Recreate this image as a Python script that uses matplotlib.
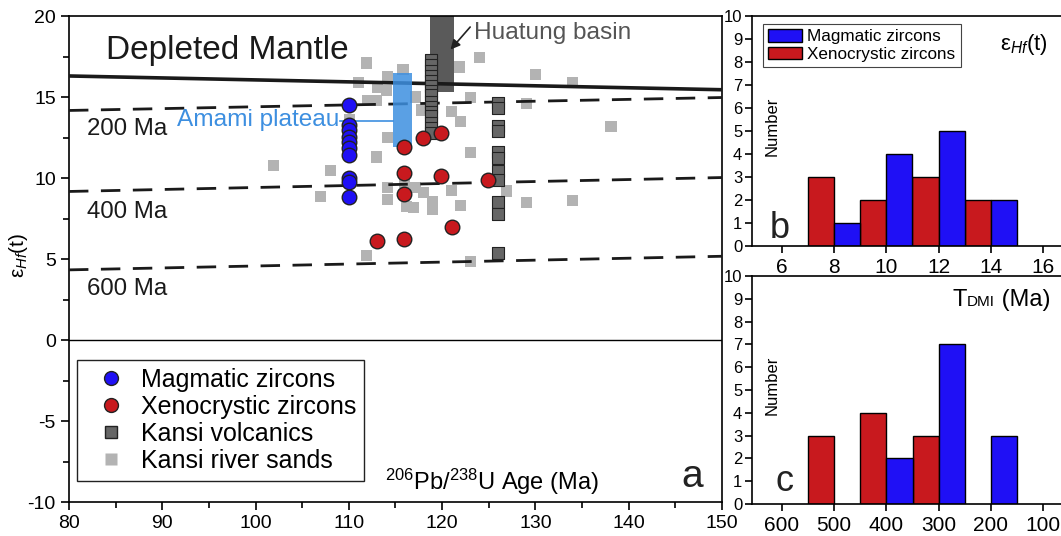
import matplotlib
matplotlib.use("Agg")
import matplotlib.pyplot as plt
from matplotlib.patches import Rectangle, Patch
from matplotlib.lines import Line2D
from matplotlib.offsetbox import TextArea, HPacker, AnchoredOffsetbox

plt.rcParams['font.family'] = ['Liberation Sans', 'DejaVu Sans']
plt.rcParams['mathtext.fontset'] = 'custom'
plt.rcParams['mathtext.rm'] = 'Liberation Sans'
plt.rcParams['mathtext.it'] = 'Liberation Sans:italic'
plt.rcParams['mathtext.bf'] = 'Liberation Sans:bold'
plt.rcParams['axes.unicode_minus'] = False

# ---------------- data ----------------
mag_age = [110, 110, 110, 110, 110, 110, 110, 110, 110, 110]
mag_hf = [14.5, 13.3, 12.95, 12.55, 12.2, 11.85, 11.45, 10.0, 9.75, 8.85]

xen_age = [115.9, 117.9, 119.9, 115.9, 119.9, 124.9, 115.9, 121.1, 115.9, 113.0]
xen_hf = [11.9, 12.5, 12.8, 10.3, 10.15, 9.9, 9.0, 6.95, 6.25, 6.1]

volc_age = [118.8] * 15 + [126.0] * 11
volc_hf = [17.3, 17.0, 16.6, 16.3, 16.0, 15.7, 15.4, 15.1, 14.7, 14.4, 14.1, 13.8, 13.4, 13.1, 12.8,
           14.65, 14.3, 13.2, 12.9, 11.6, 11.25, 10.45, 9.85, 8.5, 7.75, 5.35]

sand_age = [111.9, 111.0, 114.1, 115.8, 113.1, 112.0, 113.0, 114.0, 110.1, 114.1, 113.0, 101.9,
            108.0, 107.0, 114.1, 114.1, 116.2, 111.9, 117.1, 117.8, 121.9, 124.0, 123.0, 121.0,
            122.0, 130.0, 134.0, 129.0, 138.1, 134.0, 123.0, 116.0, 117.1, 118.0, 119.0, 119.0,
            116.9, 121.05, 122.0, 126.9, 129.0, 123.0]
sand_hf = [17.1, 15.9, 16.25, 16.7, 15.6, 14.8, 14.8, 15.4, 13.6, 12.5, 11.3, 10.75,
           10.45, 8.85, 9.4, 8.7, 8.25, 5.2, 15.0, 14.2, 16.85, 17.45, 14.95, 14.1,
           13.5, 16.4, 15.9, 14.6, 13.2, 8.6, 11.6, 9.7, 9.4, 9.1, 8.55, 8.05,
           8.2, 9.25, 8.3, 9.2, 8.5, 4.85]

dm_age = [80, 150]
dm_hf = [16.3, 15.45]
crust_labels = ['200 Ma', '400 Ma', '600 Ma']
crust_hf_start = [14.17, 9.17, 4.33]
crust_hf_end = [14.97, 10.03, 5.17]

amami_age = [114.7, 116.8]
amami_hf = [11.9, 16.5]
huatung_age = [118.7, 121.3]
huatung_hf = [15.3, 20.0]

hf_mag_centers = [8.5, 10.5, 12.5, 14.5]
hf_mag_counts = [1, 4, 5, 2]
hf_xen_centers = [7.5, 9.5, 11.5, 13.5]
hf_xen_counts = [3, 2, 3, 2]

tdm_mag_centers = [375, 275, 175]
tdm_mag_counts = [2, 7, 3]
tdm_xen_centers = [525, 425, 325]
tdm_xen_counts = [3, 4, 3]

BLUE = '#1f10f5'
RED = '#c8191e'
DGREY = '#666666'
LGREY = '#b3b3b3'
AMAMI = '#3d8fe0'
EPS = 'ε$_{Hf}$(t)'

fig = plt.figure(figsize=(10.61, 5.36), dpi=100)

# ---------------- main plot (a) ----------------
ax = fig.add_axes([0.0650, 0.0634, 0.6155, 0.9067])
ax.set_xlim(80, 150)
ax.set_ylim(-10, 20)

ax.add_patch(Rectangle((huatung_age[0], huatung_hf[0]), huatung_age[1] - huatung_age[0],
                       huatung_hf[1] - huatung_hf[0], facecolor='#5a5a5a', edgecolor='none',
                       zorder=1))
ax.scatter(sand_age, sand_hf, marker='s', s=64, color=LGREY, edgecolors='none', zorder=2)

ax.plot(dm_age, dm_hf, color='#1a1a1a', lw=2.6, zorder=3, solid_capstyle='butt')
for lab, y0, y1 in zip(crust_labels, crust_hf_start, crust_hf_end):
    ax.plot([80, 150], [y0, y1], color='#1a1a1a', lw=2.0, ls=(0, (7, 4.5)), zorder=3)
ax.axhline(0, color='black', lw=1.0, zorder=3)

ax.add_patch(Rectangle((amami_age[0], amami_hf[0]), amami_age[1] - amami_age[0],
                       amami_hf[1] - amami_hf[0], facecolor=AMAMI, edgecolor='none',
                       alpha=0.85, zorder=4))

ax.scatter(volc_age, volc_hf, marker='s', s=75, color=DGREY, edgecolors='#222222',
           linewidths=0.8, zorder=5)
ax.scatter(mag_age, mag_hf, marker='o', s=110, color=BLUE, edgecolors='#222222',
           linewidths=1.0, zorder=6)
ax.scatter(xen_age, xen_hf, marker='o', s=110, color=RED, edgecolors='#222222',
           linewidths=1.0, zorder=6)

ax.text(84.0, 17.85, 'Depleted Mantle', fontsize=24, va='center', ha='left', color='#1a1a1a')
for lab, y in zip(crust_labels, [13.0, 7.9, 3.15]):
    ax.text(81.9, y, lab, fontsize=17.3, va='center', ha='left', color='#1a1a1a')
ax.text(91.6, 13.6, 'Amami plateau', fontsize=17.6, va='center', ha='left', color=AMAMI)
ax.plot([109.0, 114.7], [13.55, 13.55], color=AMAMI, lw=1.2, zorder=4)
ax.text(123.4, 18.95, 'Huatung basin', fontsize=17.6, va='center', ha='left', color='#555555')
ax.annotate('', xy=(120.7, 17.8), xytext=(123.2, 19.45),
            arrowprops=dict(arrowstyle='-|>', color='#222222', lw=1.2, mutation_scale=14),
            zorder=7)
ax.text(113.9, -8.74, r'$^{206}$Pb/$^{238}$U Age (Ma)', fontsize=17, va='center', ha='left')
ax.text(146.8, -8.45, 'a', fontsize=28, va='center', ha='center', color='#222222')

ax.set_xticks(range(80, 151, 10))
ax.set_xticks(range(85, 150, 10), minor=True)
ax.set_yticks(range(-10, 21, 5))
ax.set_yticks([-7.5, -2.5, 2.5, 7.5, 12.5, 17.5], minor=True)
ax.tick_params(which='major', direction='out', length=6, width=1.2, labelsize=14)
ax.tick_params(which='minor', direction='out', length=4, width=1.2)
for sp in ax.spines.values():
    sp.set_linewidth(1.2)

fig.text(0.017, 0.524, EPS, rotation=90, fontsize=15, va='center', ha='center')

handles = [
    Line2D([], [], marker='o', ls='none', markersize=10, markerfacecolor=BLUE, markeredgecolor='#222222'),
    Line2D([], [], marker='o', ls='none', markersize=10, markerfacecolor=RED, markeredgecolor='#222222'),
    Line2D([], [], marker='s', ls='none', markersize=8, markerfacecolor=DGREY, markeredgecolor='#222222'),
    Line2D([], [], marker='s', ls='none', markersize=8, markerfacecolor=LGREY, markeredgecolor='none'),
]
labels = ['Magmatic zircons', 'Xenocrystic zircons', 'Kansi volcanics', 'Kansi river sands']
leg = ax.legend(handles, labels, loc='lower left', bbox_to_anchor=(0.0123, 0.043), borderaxespad=0,
                fontsize=18, frameon=True, fancybox=False, edgecolor='#222222', framealpha=1,
                handletextpad=0.12, labelspacing=0.12, borderpad=0.33, handlelength=2.1)
leg.get_frame().set_linewidth(1.0)

# ---------------- histogram (b) ----------------
axb = fig.add_axes([752 / 1061, (536 - 246) / 536, 323 / 1061, 230 / 536])
axb.bar(hf_xen_centers, hf_xen_counts, width=1.0, color=RED, edgecolor='black', lw=1.0)
axb.bar(hf_mag_centers, hf_mag_counts, width=1.0, color=BLUE, edgecolor='black', lw=1.0)
axb.set_xlim(4.85, 17.23)
axb.set_ylim(0, 10)
axb.set_xticks([6, 8, 10, 12, 14, 16])
axb.set_yticks(range(0, 11))
axb.tick_params(axis='x', direction='out', length=5, width=1.2, labelsize=15)
axb.tick_params(axis='y', direction='out', length=5, width=1.2, labelsize=12, pad=2)
axb.spines['right'].set_visible(False)
for sp in axb.spines.values():
    sp.set_linewidth(1.2)
axb.text(0.062, 0.52, 'Number', transform=axb.transAxes, rotation=90, fontsize=12,
         va='center', ha='center')
axb.text(0.087, 0.078, 'b', transform=axb.transAxes, fontsize=26, va='center', ha='center',
         color='#222222')
axb.text(0.768, 0.874, EPS, transform=axb.transAxes, fontsize=16,
         va='center', ha='left')
legb = axb.legend([Patch(facecolor=BLUE, edgecolor='black'), Patch(facecolor=RED, edgecolor='black')],
                  ['Magmatic zircons', 'Xenocrystic zircons'], loc='upper left',
                  bbox_to_anchor=(0.034, 0.965), borderaxespad=0, fontsize=12.3, frameon=True,
                  fancybox=False, edgecolor='#444444', framealpha=1, handlelength=2.0,
                  handleheight=0.75, labelspacing=0.15, borderpad=0.3, handletextpad=0.3)
legb.get_frame().set_linewidth(0.8)

# ---------------- histogram (c) ----------------
axc = fig.add_axes([752 / 1061, (536 - 504) / 536, 323 / 1061, 228 / 536])
axc.bar(tdm_xen_centers, tdm_xen_counts, width=50, color=RED, edgecolor='black', lw=1.0)
axc.bar(tdm_mag_centers, tdm_mag_counts, width=50, color=BLUE, edgecolor='black', lw=1.0)
axc.set_xlim(657.5, 38.7)
axc.set_ylim(0, 10)
axc.set_xticks([600, 500, 400, 300, 200, 100])
axc.set_yticks(range(0, 11))
axc.tick_params(axis='x', direction='out', length=5, width=1.2, labelsize=15)
axc.tick_params(axis='y', direction='out', length=5, width=1.2, labelsize=12, pad=2)
axc.spines['right'].set_visible(False)
for sp in axc.spines.values():
    sp.set_linewidth(1.2)
axc.text(0.062, 0.52, 'Number', transform=axc.transAxes, rotation=90, fontsize=12,
         va='center', ha='center')
axc.text(0.102, 0.10, 'c', transform=axc.transAxes, fontsize=26, va='center', ha='center',
         color='#222222')
pack = HPacker(children=[TextArea('T', textprops=dict(fontsize=17)),
                         TextArea('DMI', textprops=dict(fontsize=11)),
                         TextArea(' (Ma)', textprops=dict(fontsize=17))],
               align='baseline', pad=0, sep=0)
ab = AnchoredOffsetbox(loc='center left', child=pack, bbox_to_anchor=(0.62, 0.895),
                       bbox_transform=axc.transAxes, frameon=False, pad=0, borderpad=0)
axc.add_artist(ab)

fig.savefig('out.png', dpi=100)
